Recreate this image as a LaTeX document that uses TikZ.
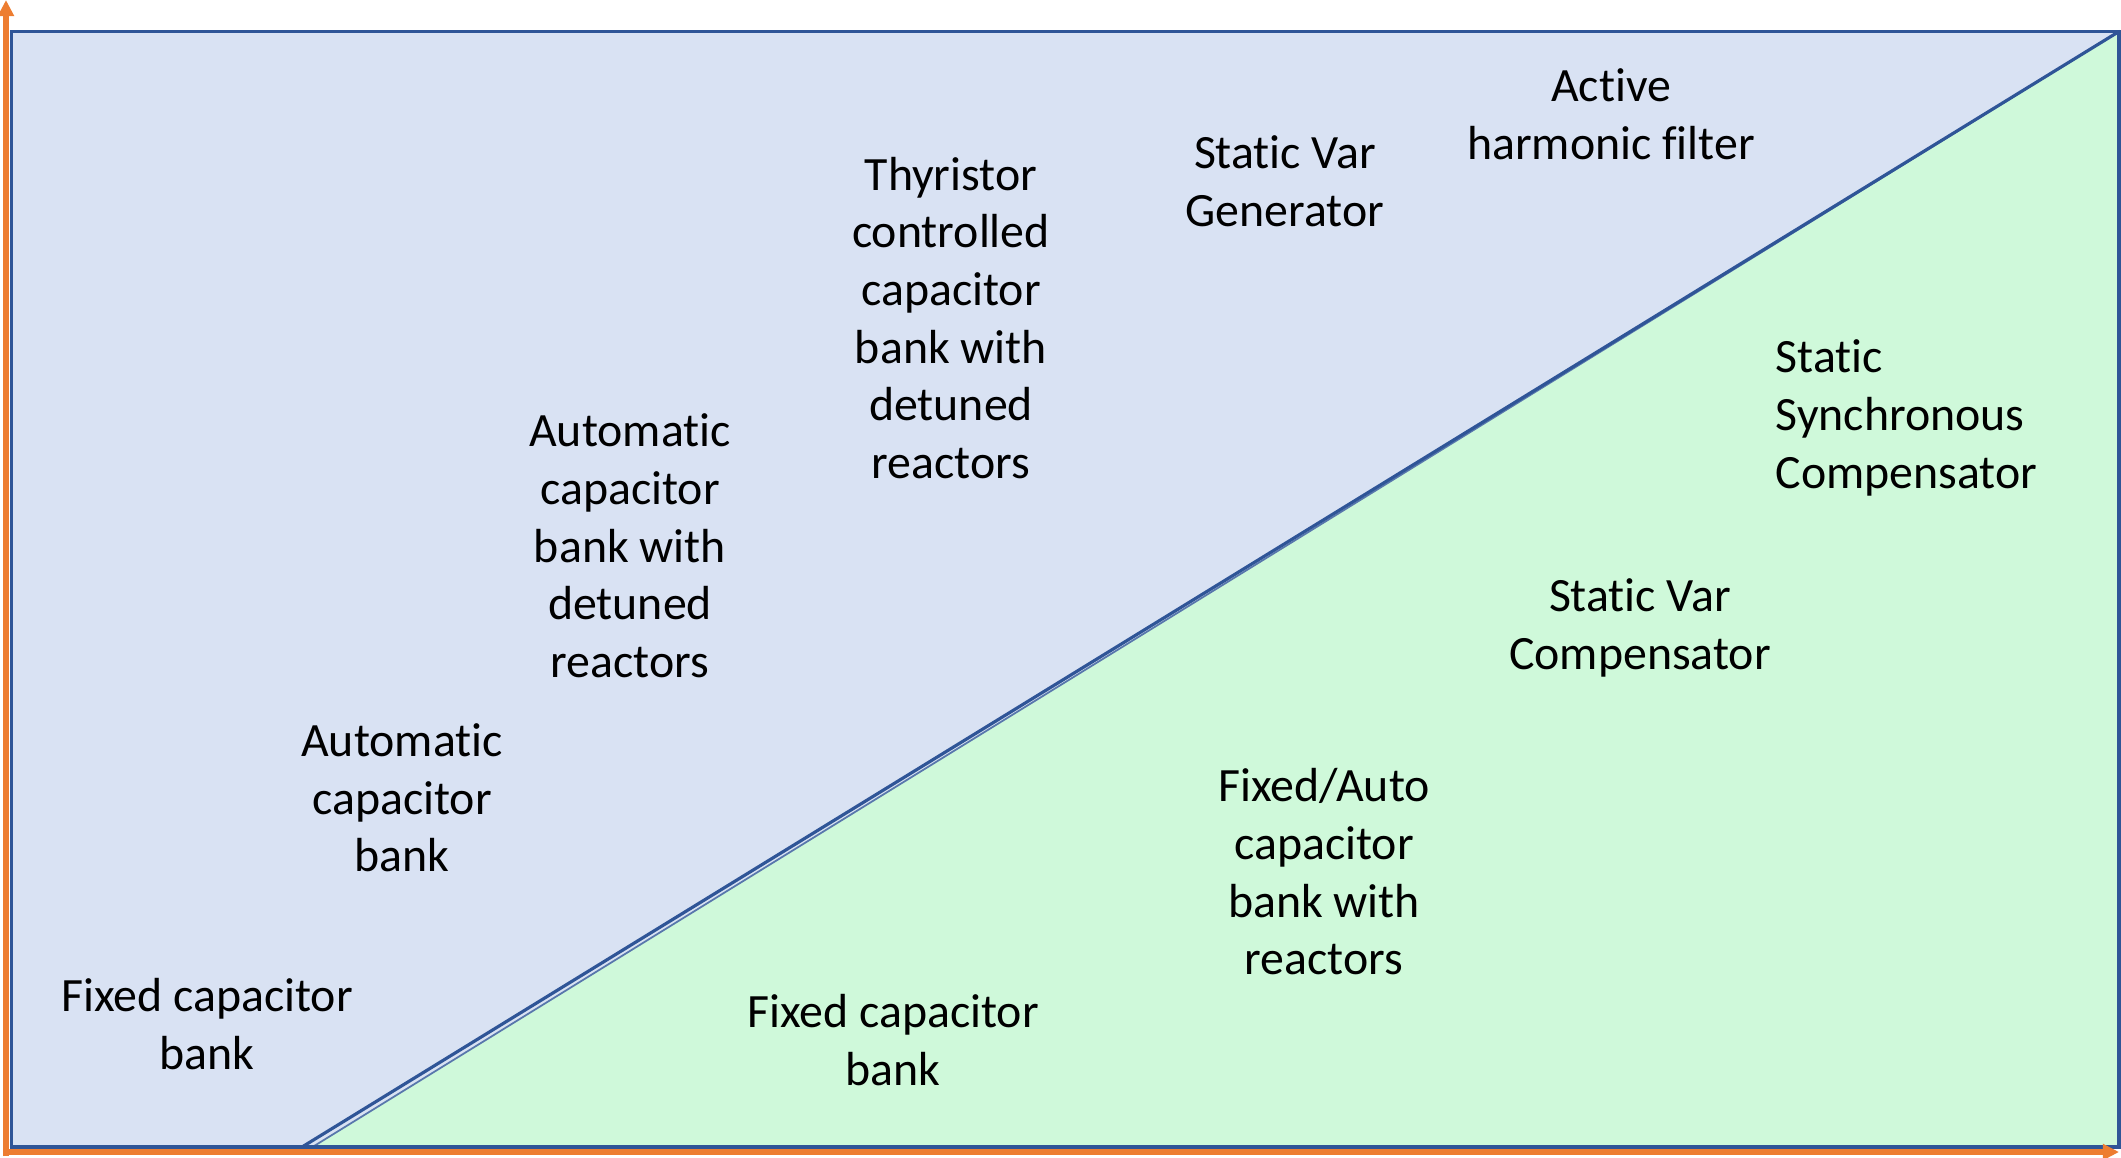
\documentclass[tikz,border=0pt]{standalone}
\usepackage{fontspec}
\setmainfont[RawFeature={-liga;-clig;-calt}]{Carlito}
\usepackage{xcolor}
\usetikzlibrary{arrows.meta}

\definecolor{zoneblue}{HTML}{D9E2F3}
\definecolor{zonegreen}{HTML}{CFF9DA}
\definecolor{edgeblue}{HTML}{2F5597}
\definecolor{axisorange}{HTML}{ED7D31}

\tikzset{
  device/.style={align=center, font=\fontsize{13.6}{16.4}\selectfont, inner sep=0pt},
  axisline/.style={line width=1.7pt, axisorange, -{Triangle[width=4.4pt, length=4.6pt]}}
}

\begin{document}
\begin{tikzpicture}[x=0.01cm, y=-0.01cm]
  \useasboundingbox (0,0) rectangle (2121,1157);
  % regions
  \draw[line width=0.9pt, edgeblue, fill=zoneblue] (11.5,31.5) rectangle (2119,1147);
  \draw[line width=0.5pt, edgeblue!80, fill=zonegreen] (306,1151) -- (2119,31.5) -- (2119,1147) -- cycle;
  \draw[line width=0.9pt, edgeblue] (302,1147) -- (2119,31.5);
  \draw[line width=0.9pt, edgeblue] (11.5,31.5) rectangle (2119,1147);
  % axes
  \coordinate (ytip) at (6,0);
  \coordinate (xtip) at (2119,1152);
  \draw[axisline] (6,1156) -- (ytip);
  \draw[axisline] (3,1152) -- (xtip);
  % upper zone
  \node[device] (fcbA) at (207,1024) {Fixed capacitor\\bank};
  \node[device] (acb) at (402,798) {Automatic\\capacitor\\bank};
  \node[device] (acbd) at (630,546) {Automatic\\capacitor\\bank with\\detuned\\reactors};
  \node[device] (tcb) at (951,318) {Thyristor\\controlled\\capacitor\\bank with\\detuned\\reactors};
  \node[device] (svg) at (1285,181) {Static Var\\Generator};
  \node[device] (ahf) at (1611,114) {Active\\harmonic filter};
  % lower zone
  \node[device, align=left, anchor=west] (statcom) at (1775,418) {Static\\Synchronous\\Compensator};
  \node[device] (svc) at (1640,628) {Static Var\\Compensator};
  \node[device] (facb) at (1324,872) {Fixed/Auto\\capacitor\\bank with\\reactors};
  \node[device] (fcbB) at (893,1040) {Fixed capacitor\\bank};
\end{tikzpicture}
\end{document}
